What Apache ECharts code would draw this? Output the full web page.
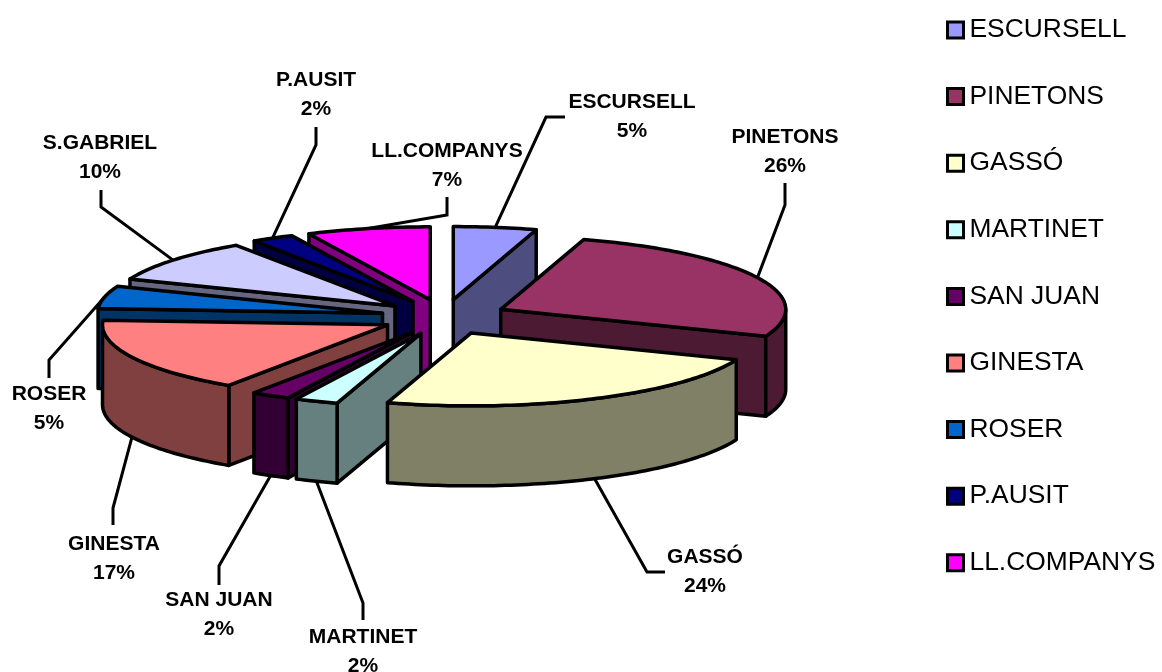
<!DOCTYPE html>
<html><head><meta charset="utf-8">
<style>html,body{margin:0;padding:0;background:#fff}#c{width:1162px;height:672px}</style>
<script src="https://cdn.jsdelivr.net/npm/echarts@6/dist/echarts.min.js"></script>
</head><body><div id="c"></div>
<script>
// ---- data ----
const names = ['ESCURSELL','PINETONS','GASSÓ','MARTINET','SAN JUAN','GINESTA','ROSER','S.GABRIEL','P.AUSIT','LL.COMPANYS'];
const values = [4.7,26.3,23.75,2.45,2.2,16.6,5,9.6,2.4,7];
const legendNames = ['ESCURSELL','PINETONS','GASSÓ','MARTINET','SAN JUAN','GINESTA','ROSER','P.AUSIT','LL.COMPANYS'];
// ---- styles ----
const topColors = ['#9999FF','#993366','#FFFFCC','#CCFFFF','#660066','#FF8080','#0066CC','#CCCCFF','#000080','#FF00FF'];
const sideColors = ['#4D4D80','#4D1A33','#808066','#668080','#330033','#804040','#003366','#666680','#000040','#800080'];
const paintOrder = ['ESCURSELL','LL.COMPANYS','P.AUSIT','S.GABRIEL','ROSER','PINETONS','GINESTA','SAN JUAN','MARTINET','GASSÓ'];
// ---- layout ----
const P = {cx:444, cy:317, r:285, k:0.256, explode:63, explodeK:0.28, depth:80};
const labelCentres = [[632,102],[785,137],[705,557],[363,637],[219,600],[114,544],[49,394],[100,143],[316,80],[447,151]];
const leaderBends = [
  [[546,117],[565,117]], [[785,205],[785,183]], [[647,572],[665,572]], [[363,603],[363,620]],
  [[219,566],[219,585]], [[113,508],[113,525]], [[49,360],[49,378]], [[101,207],[101,190]],
  [[316,145],[316,127]], [[447,215],[447,197]]
];
const total = values.reduce((a,b)=>a+b,0);
function sliceGeom(i, v){
  let before = 0; for(let j=0;j<i;j++) before += values[j];
  const a0 = before/total*2*Math.PI, a1 = (before+v)/total*2*Math.PI, m=(a0+a1)/2;
  const ax = P.cx + P.explode*Math.sin(m), ay = P.cy - P.explode*P.explodeK*Math.cos(m);
  const rim = a => [ax + P.r*Math.sin(a), ay - P.r*P.k*Math.cos(a)];
  return {a0,a1,m,ax,ay,rim};
}
const down = p => [p[0], p[1]+P.depth];
function makeSlice(i){
  return function(params, api){
    const g = sliceGeom(i, api.value(0));
    const arc = (s,e) => { const n=Math.max(2,Math.ceil((e-s)/0.02)); const pts=[]; for(let t=0;t<=n;t++) pts.push(g.rim(s+(e-s)*t/n)); return pts; };
    const apex=[g.ax,g.ay];
    const st={stroke:'#000',lineWidth:3.5,lineJoin:'round',fill:sideColors[i]};
    const kids=[];
    const face = a => { const e=g.rim(a); return {type:'polygon',shape:{points:[apex,e,down(e),down(apex)]},style:st}; };
    if(Math.sin(g.a0)<0) kids.push(face(g.a0));
    if(Math.sin(g.a1)>0) kids.push(face(g.a1));
    const w0=Math.max(g.a0,Math.PI/2), w1=Math.min(g.a1,Math.PI*1.5);
    if(w1>w0){ const top=arc(w0,w1); kids.push({type:'polygon',shape:{points:top.concat(top.slice().reverse().map(down))},style:st}); }
    kids.push({type:'polygon',shape:{points:[apex].concat(arc(g.a0,g.a1))},style:{stroke:'#000',lineWidth:3.5,lineJoin:'round',fill:topColors[i]}});
    return {type:'group',children:kids};
  };
}
function renderLabel(params, api){
  const i=params.dataIndex, v=api.value(0), g=sliceGeom(i,v);
  const front=Math.cos(g.m)<0;
  let s=g.rim(g.m); if(front) s=down(s);
  const pct=Math.round(v/total*100)+'%', c=labelCentres[i];
  return {type:'group',children:[
    {type:'polyline',shape:{points:[s].concat(leaderBends[i])},style:{stroke:'#000',lineWidth:3,fill:null,lineJoin:'miter'}},
    {type:'text',style:{x:c[0],y:c[1],text:names[i],align:'center',verticalAlign:'middle',font:'bold 21px "Liberation Sans", Arial, sans-serif',fill:'#000'}},
    {type:'text',style:{x:c[0],y:c[1]+29,text:pct,align:'center',verticalAlign:'middle',font:'bold 21px "Liberation Sans", Arial, sans-serif',fill:'#000'}}
  ]};
}
const series = names.map((n,i)=>({
  type:'custom', name:n, coordinateSystem:'none', silent:true, animation:false,
  z:2+paintOrder.indexOf(n), itemStyle:{color:topColors[i]},
  renderItem:makeSlice(i), data:[[values[i]]]
}));
series.push({type:'custom',name:'labels',coordinateSystem:'none',silent:true,animation:false,z:50,
  renderItem:renderLabel,data:values.map(v=>[v])});
const chart=echarts.init(document.getElementById('c'),null,{renderer:'canvas'});
chart.setOption({
  animation:false, backgroundColor:'#fff',
  legend:{data:legendNames,orient:'vertical',left:946,top:17,itemWidth:16,itemHeight:16,itemGap:40.6,padding:0,
    icon:'rect',selectedMode:false,
    itemStyle:{borderColor:'#000',borderWidth:3},
    textStyle:{fontFamily:'"Liberation Sans", Arial, sans-serif',fontSize:26.4,color:'#000',lineHeight:22,padding:[0,0,0,1]}},
  series
});
</script></body></html>
